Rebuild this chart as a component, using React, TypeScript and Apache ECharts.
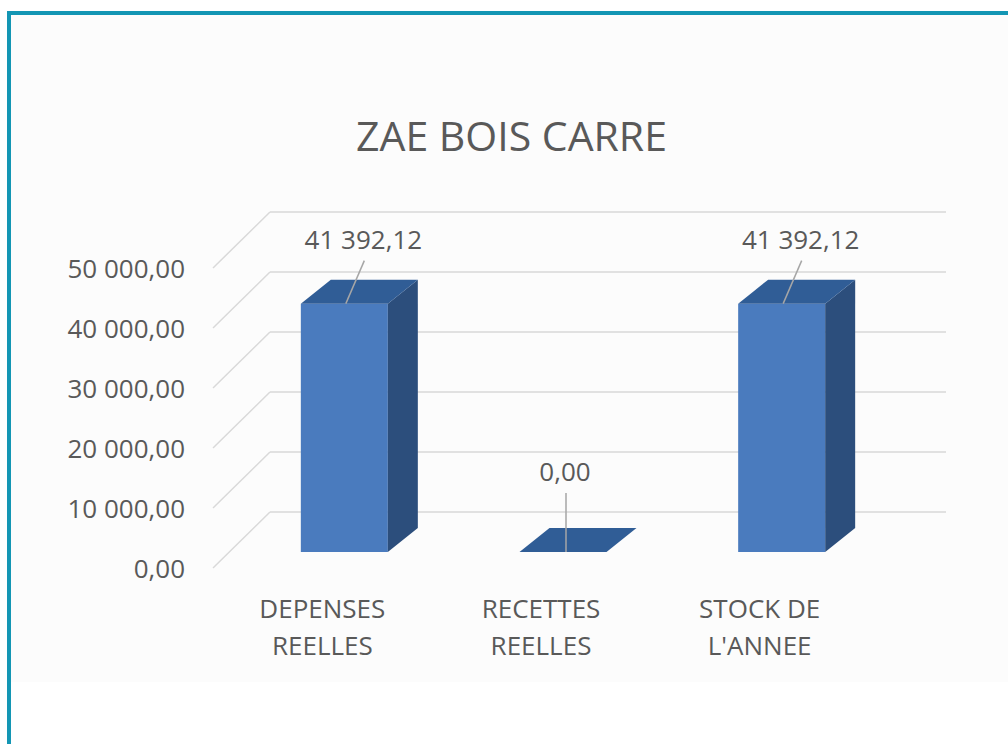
import React, { useEffect, useRef } from "react";
import * as echarts from "echarts";

const chartTitle = "ZAE BOIS CARRE";
const categories = ["DEPENSES\nREELLES", "RECETTES\nREELLES", "STOCK DE\nL'ANNEE"];
const values = [41392.12, 0, 41392.12];
const yTicks = [0, 10000, 20000, 30000, 40000, 50000];

const FONT = "'Open Sans', 'Noto Sans', sans-serif";
const TEXT = "#595959";
const GRID = "#D9D9D9";

function fmt(v: number): string {
  const [intPart, dec] = Math.abs(v).toFixed(2).split(".");
  const grouped = intPart.replace(/\B(?=(\d{3})+(?!\d))/g, " ");
  return (v < 0 ? "-" : "") + grouped + "," + dec;
}

export default function App() {
  const ref = useRef<HTMLDivElement>(null);

  useEffect(() => {
    if (!ref.current) return;
    const chart = echarts.init(ref.current, undefined, { renderer: "svg" });

    const option: any = {
      animation: false,
      backgroundColor: "#ffffff",
      graphic: [
        { type: "rect", z: -10, shape: { x: 11, y: 15, width: 997, height: 667 }, style: { fill: "#FCFCFC" } },
        { type: "rect", z: 100, shape: { x: 7, y: 11, width: 1001, height: 4 }, style: { fill: "#1396B4" } },
        { type: "rect", z: 100, shape: { x: 7, y: 11, width: 4, height: 733 }, style: { fill: "#1396B4" } },
        {
          type: "text",
          z: 100,
          x: 511.5,
          y: 135,
          style: {
            text: chartTitle,
            fontFamily: FONT,
            fontSize: 41,
            fill: TEXT,
            align: "center",
            verticalAlign: "middle",
          },
        },
      ],
      grid: [
        { left: 213, top: 268, width: 656, height: 300 },
        { left: 270, top: 212, width: 676, height: 300 },
      ],
      xAxis: [
        {
          type: "category",
          gridIndex: 0,
          data: categories,
          axisLine: { show: false },
          axisTick: { show: false },
          splitLine: { show: false },
          axisLabel: { fontFamily: FONT, fontSize: 26, lineHeight: 37, color: TEXT, margin: 21, interval: 0 },
        },
        { type: "category", gridIndex: 1, data: categories, show: false },
      ],
      yAxis: [
        {
          type: "value",
          gridIndex: 0,
          min: 0,
          max: 50000,
          interval: 10000,
          axisLine: { show: false },
          axisTick: { show: false },
          splitLine: { show: false },
          axisLabel: { fontFamily: FONT, fontSize: 26, color: TEXT, margin: 28, formatter: (v: number) => fmt(v) },
        },
        {
          type: "value",
          gridIndex: 1,
          min: 0,
          max: 50000,
          interval: 10000,
          axisLine: { show: false },
          axisTick: { show: false },
          axisLabel: { show: false },
          splitLine: { show: true, lineStyle: { color: GRID, width: 1.5 } },
        },
      ],
      series: [
        {
          type: "custom",
          name: "diagonals",
          xAxisIndex: 0,
          yAxisIndex: 0,
          silent: true,
          data: yTicks.map((t) => [0, t]),
          renderItem: (params: any, api: any) => {
            const y = api.coord([0, api.value(1)])[1];
            const x0 = params.coordSys.x;
            return {
              type: "line",
              shape: { x1: x0, y1: y, x2: x0 + 57, y2: y - 56 },
              style: { stroke: GRID, lineWidth: 1.5 },
            };
          },
        },
        {
          type: "custom",
          name: "bars",
          xAxisIndex: 0,
          yAxisIndex: 0,
          z: 5,
          data: values.map((v, i) => [i, v]),
          renderItem: (params: any, api: any) => {
            const i = api.value(0);
            const v = api.value(1);
            const top = api.coord([i, v]);
            const base = api.coord([i, 0]);
            const cx = top[0] + 22;
            const yt = top[1] - 16;
            const yb = base[1] - 16;
            const hw = 43.5;
            const xl = cx - hw;
            const xr = cx + hw;
            const dx = 30;
            const dy = -24;
            const children: any[] = [];
            if (yb - yt > 0.5) {
              children.push({
                type: "rect",
                shape: { x: xl, y: yt, width: 2 * hw, height: yb - yt },
                style: { fill: "#4A7BBE" },
              });
              children.push({
                type: "polygon",
                shape: { points: [[xr, yt], [xr + dx, yt + dy], [xr + dx, yb + dy], [xr, yb]] },
                style: { fill: "#2C4E7C" },
              });
            }
            children.push({
              type: "polygon",
              shape: { points: [[xl, yt], [xl + dx, yt + dy], [xr + dx, yt + dy], [xr, yt]] },
              style: { fill: "#305D96" },
            });
            const lx = cx + (v > 0 ? 19 : 2);
            const ly = yt + (v > 0 ? -65 : -81);
            children.push({
              type: "line",
              shape: { x1: lx + 1, y1: ly + 22, x2: v > 0 ? cx + 1.5 : lx + 1, y2: yt },
              style: { stroke: "#A6A6A6", lineWidth: 1.5 },
            });
            children.push({
              type: "text",
              x: lx,
              y: ly,
              style: {
                text: fmt(v),
                fontFamily: FONT,
                fontSize: 26,
                fill: TEXT,
                align: "center",
                verticalAlign: "middle",
              },
            });
            return { type: "group", children };
          },
        },
      ],
    };

    chart.setOption(option);
    return () => chart.dispose();
  }, []);

  return <div ref={ref} style={{ position: "fixed", left: 0, top: 0, width: 1008, height: 744 }} />;
}
